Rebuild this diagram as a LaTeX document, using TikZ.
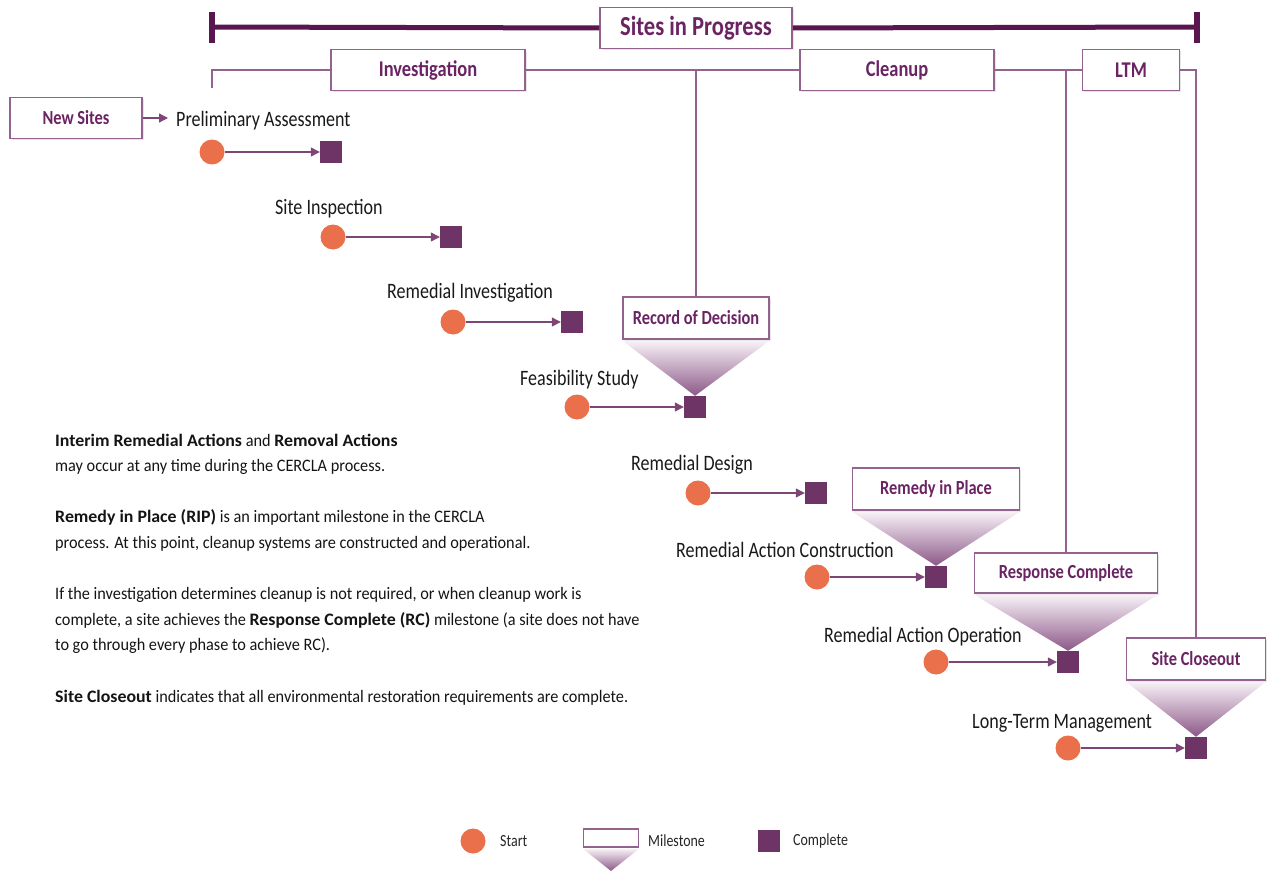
\documentclass[tikz,border=0pt]{standalone}
\usepackage{fontspec}
\setmainfont{Carlito}[FakeStretch=0.82]
\newfontfamily\notefont{Carlito}[FakeStretch=0.93, BoldFeatures={FakeStretch=1.02}]
\usetikzlibrary{arrows.meta,shadows}
\definecolor{plum}{HTML}{5A1650}
\definecolor{mauve}{HTML}{93628F}
\definecolor{boxtext}{HTML}{6B2463}
\definecolor{donefill}{HTML}{6D3465}
\definecolor{startfill}{HTML}{EA6F4B}
\definecolor{linkline}{HTML}{7D4677}
\definecolor{trilight}{HTML}{F8F2F7}
\definecolor{tridark}{HTML}{8C5888}
\tikzstyle{phase} = [rectangle, draw = mauve, line width = 1.5pt, fill = white, text = boxtext, font = \bfseries\fontsize{20}{24}\selectfont, minimum height = 41pt, inner xsep = 0pt, drop shadow = {shadow xshift = 1.5pt, shadow yshift = -1.5pt, opacity = 0.2}]
\tikzstyle{start} = [circle, fill = startfill, minimum size = 25pt, inner sep = 0pt]
\tikzstyle{done} = [rectangle, fill = donefill, minimum size = 22pt, inner sep = 0pt]
\tikzstyle{stepname} = [anchor = base west, inner sep = 0pt, text = black!90, font = \fontsize{22}{26}\selectfont]
\tikzstyle{arrow} = [line width = 1.3pt, draw = linkline, -{Triangle[length = 9pt, width = 9pt]}]
\tikzstyle{link} = [draw = mauve, line width = 1.4pt]
\tikzstyle{bar} = [draw = plum, line width = 5pt]
\tikzstyle{funnel} = [top color = trilight, bottom color = tridark]
\tikzstyle{note} = [anchor = base west, align = left, inner sep = 0pt, text = black!92, font = \notefont\fontsize{17.5}{25.6}\selectfont]
\tikzstyle{key} = [anchor = west, inner sep = 0pt, text = black!85, font = \fontsize{17}{20}\selectfont]

\begin{document}
\begin{tikzpicture}[x = 1pt, y = -1pt]
    \useasboundingbox (0,0) rectangle (1268,872);

    % phase boxes
    \node[phase, minimum width = 192pt, font = \bfseries\fontsize{27.5}{30}\selectfont](progress) at (696,28){Sites in Progress};
    \node[phase, minimum width = 194pt, font = \bfseries\fontsize{22.5}{26}\selectfont](investigation) at (428,70){Investigation};
    \node[phase, minimum width = 194pt, font = \bfseries\fontsize{22.5}{26}\selectfont](cleanup) at (897,70){Cleanup};
    \node[phase, minimum width = 97pt, font = \bfseries\fontsize{22.5}{26}\selectfont](ltm) at (1131,70){LTM};
    \node[phase, minimum width = 132pt](new sites) at (76,118){New Sites};

    % milestone boxes
    \node[phase, minimum width = 146pt, minimum height = 42pt](rod) at (696,318){Record of Decision};
    \node[phase, minimum width = 167pt, minimum height = 42pt](rip) at (936,489){Remedy in Place};
    \node[phase, minimum width = 183pt, minimum height = 40pt](rc) at (1066,573){Response Complete};
    \node[phase, minimum width = 139pt, minimum height = 42pt](closeout) at (1196,659){Site Closeout};

    % steps
    \node[start](PA start) at (212,152){};
    \node[done](PA done) at (331,152){};
    \node[stepname](PA label) at (176,127){Preliminary Assessment};
    \node[start](SI start) at (333,237){};
    \node[done](SI done) at (451,237){};
    \node[stepname](SI label) at (275,214){Site Inspection};
    \node[start](RI start) at (453,322){};
    \node[done](RI done) at (572,322){};
    \node[stepname](RI label) at (387,298){Remedial Investigation};
    \node[start](FS start) at (577,407){};
    \node[done](FS done) at (695,407){};
    \node[stepname](FS label) at (520,385){Feasibility Study};
    \node[start](RD start) at (698,493){};
    \node[done](RD done) at (816,493){};
    \node[stepname](RD label) at (631,470){Remedial Design};
    \node[start](RAC start) at (817,577){};
    \node[done](RAC done) at (936,577){};
    \node[stepname](RAC label) at (676,557){Remedial Action Construction};
    \node[start](RAO start) at (936,662){};
    \node[done](RAO done) at (1068,662){};
    \node[stepname](RAO label) at (824,642){Remedial Action Operation};
    \node[start](LTM start) at (1068,748){};
    \node[done](LTM done) at (1196,748){};
    \node[stepname](LTM label) at (972,728){Long-Term Management};

    \draw [arrow](PA start)--(PA done);
    \draw [arrow](SI start)--(SI done);
    \draw [arrow](RI start)--(RI done);
    \draw [arrow](FS start)--(FS done);
    \draw [arrow](RD start)--(RD done);
    \draw [arrow](RAC start)--(RAC done);
    \draw [arrow](RAO start)--(RAO done);
    \draw [arrow](LTM start)--(LTM done);
    \draw [arrow](new sites)--(168,118);

    % funnels down to the completing step
    \shade[funnel]([yshift = -0.8pt]rod.south west)--([yshift = -0.8pt]rod.south east)--(FS done.north)--cycle;
    \shade[funnel]([yshift = -0.8pt]rip.south west)--([yshift = -0.8pt]rip.south east)--(RAC done.north)--cycle;
    \shade[funnel]([yshift = -0.8pt]rc.south west)--([yshift = -0.8pt]rc.south east)--(RAO done.north)--cycle;
    \shade[funnel]([yshift = -0.8pt]closeout.south west)--([yshift = -0.8pt]closeout.south east)--(LTM done.north)--cycle;

    % top bar
    \coordinate (bar left) at (212,27);
    \coordinate (bar right) at (1197,27);
    \draw [bar](bar left)--(progress.west);
    \draw [bar](progress.east)--(bar right);
    \draw [plum, line width = 6.5pt]([yshift = 15pt]bar left)--([yshift = -16pt]bar left);
    \draw [plum, line width = 6.5pt]([yshift = 15pt]bar right)--([yshift = -16pt]bar right);

    % phase line
    \coordinate (phase start) at (212,88);
    \draw [link](phase start)|-(investigation.west);
    \draw [link](investigation.east)--(cleanup.west);
    \draw [link](cleanup.east)--(ltm.west);
    \draw [link](ltm.east)-|(closeout.north);
    \draw [link](rod.north)--(rod.north |- investigation.east);
    \draw [link](rc.north)--(rc.north |- investigation.east);

    % notes
    \node[note](notes) at (55,702){\textbf{Interim Remedial Actions} and \textbf{Removal Actions}\\
        may occur at any time during the CERCLA process.\\[25.6pt]
        \textbf{Remedy in Place (RIP)} is an important milestone in the CERCLA\\
        process. At this point, cleanup systems are constructed and operational.\\[25.6pt]
        If the investigation determines cleanup is not required, or when cleanup work is\\
        complete, a site achieves the \textbf{Response Complete (RC)} milestone (a site does not have\\
        to go through every phase to achieve RC).\\[25.6pt]
        \textbf{Site Closeout} indicates that all environmental restoration requirements are complete.};

    % legend
    \node[start](key start) at (473,841){};
    \node[key](key start text) at (500,841){Start};
    \node[rectangle, draw = mauve, line width = 1.5pt, fill = white, minimum width = 55pt, minimum height = 18pt, inner sep = 0pt](key milestone) at (611,838){};
    \coordinate (key tip) at (611,871);
    \shade[funnel]([yshift = -0.8pt]key milestone.south west)--([yshift = -0.8pt]key milestone.south east)--(key tip)--cycle;
    \node[key](key milestone text) at (648,841){Milestone};
    \node[done](key done) at (769,841){};
    \node[key](key done text) at (793,841){Complete};
\end{tikzpicture}
\end{document}
